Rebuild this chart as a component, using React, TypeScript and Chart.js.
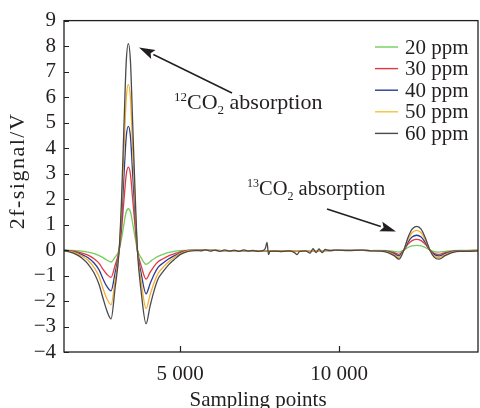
import React, { useEffect, useRef } from "react";
import { Chart, registerables } from "chart.js";
Chart.register(...registerables);

const FONT = "'Liberation Serif', 'Times New Roman', serif";
const INK = "#231f20";

const SERIES_LABELS = ["20 ppm", "30 ppm", "40 ppm", "50 ppm", "60 ppm"];
const SERIES_COLORS = ["#72cf5c", "#e2393f", "#2c3a94", "#f2ae2e", "#4a4a4a"];
const LEGEND_COLORS = ["#72cf5c", "#e2393f", "#2c3a94", "#f6c233", "#4a4a4a"];

// 12CO2 absorption region
const X_MAIN = [1350, 1541, 1729, 1918, 2107, 2296, 2453, 2579, 2704, 2830, 2956, 3082, 3160, 3239, 3308, 3374, 3440, 3509, 3585, 3663, 3774, 3931, 4057, 4182, 4308, 4465, 4623, 4811, 5000, 5252, 5503];
const MAIN_20 = [0.0, -0.01, -0.02, -0.04, -0.08, -0.14, -0.22, -0.3, -0.4, -0.47, -0.28, 0.0, 0.45, 1.05, 1.5, 1.62, 1.5, 1.05, 0.5, -0.02, -0.3, -0.56, -0.46, -0.34, -0.25, -0.17, -0.1, -0.05, -0.02, 0.0, 0.0];
const MAIN_30 = [-0.01, -0.03, -0.06, -0.12, -0.2, -0.34, -0.52, -0.76, -0.96, -1.07, -0.6, -0.02, 0.8, 2.0, 2.97, 3.25, 2.97, 2.0, 0.92, -0.04, -0.6, -1.14, -0.88, -0.64, -0.46, -0.34, -0.24, -0.15, -0.07, -0.01, 0.0];
const MAIN_40 = [-0.01, -0.04, -0.09, -0.18, -0.3, -0.51, -0.78, -1.14, -1.44, -1.6, -0.9, -0.03, 1.2, 3.0, 4.45, 4.85, 4.45, 3.0, 1.4, -0.06, -0.9, -1.72, -1.32, -0.96, -0.68, -0.51, -0.36, -0.23, -0.11, -0.02, 0.0];
const MAIN_50 = [-0.02, -0.05, -0.12, -0.24, -0.4, -0.68, -1.04, -1.52, -1.92, -2.15, -1.2, -0.04, 1.6, 4.0, 5.95, 6.5, 5.95, 4.0, 1.85, -0.08, -1.2, -2.3, -1.76, -1.28, -0.92, -0.68, -0.48, -0.3, -0.14, -0.02, 0.0];
const MAIN_60 = [-0.03, -0.08, -0.17, -0.32, -0.55, -0.9, -1.35, -1.9, -2.4, -2.7, -1.5, -0.05, 2.0, 5.0, 7.4, 8.1, 7.4, 5.0, 2.3, -0.1, -1.6, -2.89, -2.2, -1.6, -1.14, -0.85, -0.6, -0.38, -0.18, -0.05, -0.02];

// baseline between the two absorptions
const X_MID_NOISE = [5650, 5800, 5950, 6100, 6250, 6400, 6550, 6700, 6850, 7000, 7150, 7300, 7450, 7600, 7680, 7736, 7780, 7830, 8000, 8200, 8450, 8600, 8680, 8760, 8950, 9090, 9180, 9280, 9370, 9470, 9560, 9720, 9900, 10300, 10700, 11000];
const MID_NOISE_60 = [-0.03, 0.01, -0.04, 0.0, -0.05, 0.01, -0.04, 0.0, -0.05, 0.01, -0.04, -0.01, -0.05, -0.02, 0.06, 0.3, -0.18, -0.05, -0.04, -0.06, -0.03, -0.1, -0.18, -0.05, -0.03, -0.12, 0.05, -0.1, 0.04, -0.1, 0.02, -0.02, 0.0, -0.02, 0.0, -0.03];
const X_MID_FLAT = [6500, 8000, 9500, 10500, 11000];
const MID_FLAT = [-0.02, -0.03, -0.02, -0.01, -0.02];

// 13CO2 absorption region
const X_13 = [11290, 11542, 11730, 11888, 12023, 12171, 12297, 12445, 12580, 12706, 12863, 12989, 13146, 13334, 13555, 13806, 14058, 14372];
const C13_20 = [-0.01, -0.02, -0.05, -0.08, -0.01, 0.1, 0.16, 0.18, 0.16, 0.1, 0.0, -0.06, -0.08, -0.05, -0.02, -0.01, -0.01, 0.0];
const C13_30 = [-0.02, -0.05, -0.1, -0.17, -0.02, 0.23, 0.37, 0.42, 0.37, 0.23, -0.01, -0.13, -0.17, -0.1, -0.05, -0.02, -0.02, -0.01];
const C13_40 = [-0.02, -0.06, -0.14, -0.23, -0.03, 0.31, 0.51, 0.58, 0.51, 0.31, -0.01, -0.17, -0.23, -0.14, -0.06, -0.03, -0.03, -0.02];
const C13_50 = [-0.03, -0.08, -0.18, -0.3, -0.04, 0.41, 0.68, 0.77, 0.68, 0.41, -0.02, -0.23, -0.3, -0.18, -0.08, -0.04, -0.04, -0.02];
const C13_60 = [-0.04, -0.1, -0.22, -0.36, -0.05, 0.5, 0.82, 0.93, 0.82, 0.5, -0.02, -0.28, -0.36, -0.22, -0.1, -0.05, -0.05, -0.03];

const X_MIN = 1350;
const X_MAX = 14370;
const X_TICKS = [5000, 10000];
const X_TICK_LABELS = ["5 000", "10 000"];
const Y_MIN = -4;
const Y_MAX = 9;

const zip = (xs: number[], ys: number[]) => xs.map((x, i) => ({ x, y: ys[i] }));

function buildSeries(main: number[], c13: number[], noisy: boolean) {
  const mid = noisy ? zip(X_MID_NOISE, MID_NOISE_60) : zip(X_MID_FLAT, MID_FLAT);
  return [...zip(X_MAIN, main), ...mid, ...zip(X_13, c13)];
}

const decorPlugin = {
  id: "decor",
  afterDatasetsDraw(chart: any) {
    const ctx = chart.ctx as CanvasRenderingContext2D;
    const { left, right, top, bottom } = chart.chartArea;
    const xs = chart.scales.x;
    const ys = chart.scales.y;
    ctx.save();
    // frame
    ctx.strokeStyle = INK;
    ctx.lineWidth = 1.3;
    ctx.strokeRect(left, top, right - left, bottom - top);
    // inward ticks
    ctx.lineWidth = 1.2;
    ctx.beginPath();
    for (let v = Y_MIN; v <= Y_MAX; v++) {
      const y = Math.round(ys.getPixelForValue(v)) + 0.5;
      ctx.moveTo(left, y);
      ctx.lineTo(left + 5, y);
    }
    for (const v of X_TICKS) {
      const x = Math.round(xs.getPixelForValue(v)) + 0.5;
      ctx.moveTo(x, bottom);
      ctx.lineTo(x, bottom - 6);
    }
    ctx.stroke();

    // legend
    ctx.font = `21px ${FONT}`;
    ctx.textBaseline = "middle";
    ctx.textAlign = "left";
    SERIES_LABELS.forEach((lab, i) => {
      const y = 47 + i * 21.6;
      ctx.strokeStyle = LEGEND_COLORS[i];
      ctx.lineWidth = 1.4;
      ctx.beginPath();
      ctx.moveTo(375, y);
      ctx.lineTo(398, y);
      ctx.stroke();
      ctx.fillStyle = INK;
      ctx.fillText(lab, 405, y + 1);
    });

    // arrows
    const arrow = (x1: number, y1: number, x2: number, y2: number) => {
      const ang = Math.atan2(y2 - y1, x2 - x1);
      const len = 16;
      const hw = 5;
      const bx = x2 - len * Math.cos(ang);
      const by = y2 - len * Math.sin(ang);
      ctx.strokeStyle = INK;
      ctx.fillStyle = INK;
      ctx.lineWidth = 1.5;
      ctx.beginPath();
      ctx.moveTo(x1, y1);
      ctx.lineTo(bx, by);
      ctx.stroke();
      ctx.beginPath();
      ctx.moveTo(x2, y2);
      ctx.lineTo(bx + hw * Math.sin(ang), by - hw * Math.cos(ang));
      ctx.lineTo(bx + 3 * Math.cos(ang), by + 3 * Math.sin(ang));
      ctx.lineTo(bx - hw * Math.sin(ang), by + hw * Math.cos(ang));
      ctx.closePath();
      ctx.fill();
    };
    arrow(232, 93, 139, 47.5);
    arrow(327, 209, 396, 231.5);

    // annotation texts with super/subscripts
    const chem = (x: number, base: number, size: number, sup: string) => {
      ctx.fillStyle = INK;
      ctx.textBaseline = "alphabetic";
      ctx.textAlign = "left";
      const small = Math.round(size * 0.6);
      ctx.font = `${small}px ${FONT}`;
      ctx.fillText(sup, x, base - size * 0.38);
      let cx = x + ctx.measureText(sup).width;
      ctx.font = `${size}px ${FONT}`;
      ctx.fillText("CO", cx, base);
      cx += ctx.measureText("CO").width;
      ctx.font = `${small}px ${FONT}`;
      ctx.fillText("2", cx, base + size * 0.22);
      cx += ctx.measureText("2").width;
      ctx.font = `${size}px ${FONT}`;
      ctx.fillText(" absorption", cx, base);
    };
    chem(174, 109, 22, "12");
    chem(247, 195, 20.5, "13");

    // axis titles
    ctx.fillStyle = INK;
    ctx.font = `21px ${FONT}`;
    ctx.textAlign = "center";
    ctx.textBaseline = "alphabetic";
    ctx.fillText("Sampling points", 258, 405.5);
    ctx.save();
    ctx.translate(24, 171);
    ctx.rotate(-Math.PI / 2);
    ctx.font = `22px ${FONT}`;
    (ctx as any).letterSpacing = "1.5px";
    ctx.fillText("2f-signal/V", 0, 0);
    ctx.restore();
    ctx.restore();
  },
};

export default function App() {
  const ref = useRef<HTMLCanvasElement>(null);
  useEffect(() => {
    if (!ref.current) return;
    const mains = [MAIN_20, MAIN_30, MAIN_40, MAIN_50, MAIN_60];
    const c13s = [C13_20, C13_30, C13_40, C13_50, C13_60];
    const datasets = SERIES_LABELS.map((label, i) => ({
      label,
      data: buildSeries(mains[i], c13s[i], i === 4),
      borderColor: SERIES_COLORS[i],
      backgroundColor: SERIES_COLORS[i],
      borderWidth: 1.3,
      pointRadius: 0,
      cubicInterpolationMode: "monotone" as const,
      fill: false,
      order: 4 - i,
    }));
    const chart = new Chart(ref.current, {
      type: "line",
      data: { datasets },
      options: {
        responsive: false,
        animation: false,
        layout: { padding: { top: 19, right: 2, left: 0, bottom: 0 } },
        plugins: { legend: { display: false }, tooltip: { enabled: false } },
        scales: {
          x: {
            type: "linear",
            min: X_MIN,
            max: X_MAX,
            afterBuildTicks: (s: any) => {
              s.ticks = X_TICKS.map((v) => ({ value: v }));
            },
            afterFit: (s: any) => {
              s.height = 56;
            },
            grid: { display: false, drawTicks: false },
            border: { display: false },
            ticks: {
              font: { family: FONT, size: 21 },
              color: INK,
              padding: 10,
              maxRotation: 0,
              autoSkip: false,
              callback: (v: any) => {
                const k = X_TICKS.indexOf(Number(v));
                return k >= 0 ? X_TICK_LABELS[k] : "";
              },
            },
          },
          y: {
            min: Y_MIN,
            max: Y_MAX,
            afterFit: (s: any) => {
              s.width = 64;
            },
            grid: { display: false, drawTicks: false },
            border: { display: false },
            ticks: {
              stepSize: 1,
              autoSkip: false,
              font: { family: FONT, size: 21 },
              color: INK,
              padding: 8,
              callback: (v: any) => (Number(v) < 0 ? "\u2212" + Math.abs(Number(v)) : String(v)),
            },
          },
        },
      },
      plugins: [decorPlugin],
    });
    return () => chart.destroy();
  }, []);
  return (
    <div style={{ position: "fixed", left: 0, top: 0, width: 480, height: 408, background: "#fff" }}>
      <canvas ref={ref} width={480} height={408} style={{ width: 480, height: 408, display: "block" }} />
    </div>
  );
}
